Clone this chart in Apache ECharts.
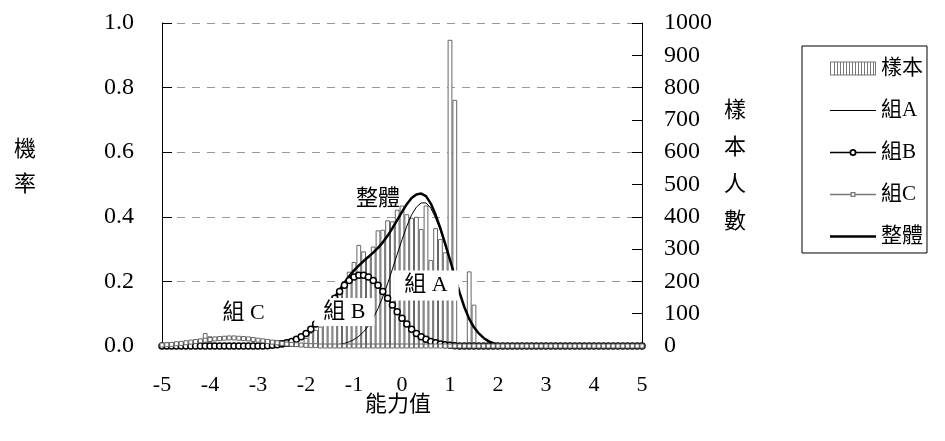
<!DOCTYPE html>
<html>
<head>
<meta charset="utf-8">
<script src="https://cdn.jsdelivr.net/npm/echarts@6/dist/echarts.min.js"></script>
<style>
  html, body { margin: 0; padding: 0; background: #fff; }
  #chart { width: 945px; height: 441px; }
</style>
</head>
<body>
<div id="chart"></div>
<script>
  // 能力值 grid (step 0.1)
  const ability = [
    '-5','-4.9','-4.8','-4.7','-4.6','-4.5','-4.4','-4.3','-4.2','-4.1',
    '-4','-3.9','-3.8','-3.7','-3.6','-3.5','-3.4','-3.3','-3.2','-3.1',
    '-3','-2.9','-2.8','-2.7','-2.6','-2.5','-2.4','-2.3','-2.2','-2.1',
    '-2','-1.9','-1.8','-1.7','-1.6','-1.5','-1.4','-1.3','-1.2','-1.1',
    '-1','-0.9','-0.8','-0.7','-0.6','-0.5','-0.4','-0.3','-0.2','-0.1',
    '0','0.1','0.2','0.3','0.4','0.5','0.6','0.7','0.8','0.9',
    '1','1.1','1.2','1.3','1.4','1.5','1.6','1.7','1.8','1.9',
    '2','2.1','2.2','2.3','2.4','2.5','2.6','2.7','2.8','2.9',
    '3','3.1','3.2','3.3','3.4','3.5','3.6','3.7','3.8','3.9',
    '4','4.1','4.2','4.3','4.4','4.5','4.6','4.7','4.8','4.9',
    '5'
  ]
  // 樣本人數 (right axis)
  const sample = [
    '-','-','-','-','-','-','-','-','-',40,
    30,'-','-','-','-','-','-','-','-','-',
    '-','-','-','-','-','-','-','-','-','-',
    25,41,50,60,75,100,125,160,200,230,
    260,313,293,277,308,358,360,389,386,422,
    435,408,397,400,362,435,266,365,331,290,
    948,762,'-','-',231,128,'-','-','-','-',
    '-','-','-','-','-','-','-','-','-','-',
    '-','-','-','-','-','-','-','-','-','-',
    '-','-','-','-','-','-','-','-','-','-',
    '-'
  ]
  // 機率 curves (left axis)
  const groupA = [
    0,0,0,0,0,0,0,0,0,0,
    0,0,0,0,0,0,0,0,0,0,
    0,0,0,0,0,0,0,0,0,0,
    0,0,0,0,.001,.002,.003,.005,.008,.013,
    .020,.030,.044,.062,.086,.116,.152,.193,.238,.284,
    .329,.371,.406,.430,.443,.443,.427,.396,.358,.312,
    .265,.215,.165,.120,.084,.058,.039,.025,.015,.009,
    .005,.003,.002,.001,0,0,0,0,0,0,
    0,0,0,0,0,0,0,0,0,0,
    0,0,0,0,0,0,0,0,0,0,
    0
  ]
  const groupB = [
    0,0,0,0,0,0,0,0,0,0,
    0,0,0,0,0,0,0,0,0,0,
    0,0,.001,.002,.004,.006,.010,.014,.021,.029,
    .039,.052,.068,.086,.106,.127,.148,.169,.188,.203,
    .214,.219,.219,.214,.203,.188,.169,.148,.127,.106,
    .086,.068,.052,.039,.029,.021,.014,.010,.006,.004,
    .002,.001,0,0,0,0,0,0,0,0,
    0,0,0,0,0,0,0,0,0,0,
    0,0,0,0,0,0,0,0,0,0,
    0,0,0,0,0,0,0,0,0,0,
    0
  ]
  const groupC = [
    .003,.004,.005,.007,.008,.010,.012,.014,.016,.018,
    .020,.022,.023,.024,.025,.025,.024,.023,.022,.020,
    .018,.016,.014,.012,.010,.008,.006,.005,.004,.003,
    .002,.001,.001,0,0,0,0,0,0,0,
    0,0,0,0,0,0,0,0,0,0,
    0,0,0,0,0,0,0,0,0,0,
    0,0,0,0,0,0,0,0,0,0,
    0,0,0,0,0,0,0,0,0,0,
    0,0,0,0,0,0,0,0,0,0,
    0,0,0,0,0,0,0,0,0,0,
    0
  ]
  const total = [
    .003,.004,.005,.007,.008,.010,.012,.014,.016,.018,
    .020,.022,.023,.024,.025,.025,.024,.023,.022,.020,
    .018,.016,.015,.014,.014,.014,.016,.019,.025,.032,
    .041,.053,.069,.086,.107,.129,.151,.174,.196,.216,
    .234,.249,.263,.276,.289,.304,.321,.341,.365,.390,
    .415,.439,.458,.469,.472,.464,.441,.406,.364,.316,
    .267,.216,.165,.120,.084,.058,.039,.025,.015,.009,
    .005,.003,.002,.001,0,0,0,0,0,0,
    0,0,0,0,0,0,0,0,0,0,
    0,0,0,0,0,0,0,0,0,0,
    0
  ]

  const serif = "'Liberation Serif', 'Noto Sans CJK TC', serif"

  // legend icons, drawn in a 46x14 box
  const box = 'M0,0L0.01,0Z M46,14L45.99,14Z '
  let hatch = 'M0,0H46V14H0Z M1,1V13H45V1Z '
  for (let x = 4; x < 45; x += 3) hatch += 'M' + x + ',1H' + (x + 1) + 'V13H' + x + 'Z '
  const iconA = box + 'M0,6.5H46V7.5H0Z'
  const iconTotal = box + 'M0,5.7H46V8.3H0Z'
  const iconB = box + 'M0,6.3H19.5V7.7H0Z M26.5,6.3H46V7.7H26.5Z ' +
    'M19.5,7A3.5,3.5 0 1 1 26.5,7A3.5,3.5 0 1 1 19.5,7Z ' +
    'M21.3,7A1.7,1.7 0 1 0 24.7,7A1.7,1.7 0 1 0 21.3,7Z'
  const iconC = box + 'M0,6.3H20.5V7.7H0Z M25.5,6.3H46V7.7H25.5Z ' +
    'M20.5,4.5H25.5V9.5H20.5Z M21.8,5.8V8.2H24.2V5.8Z'

  const tag = (name, x, y, bg, pad) => ({
    name: name, coord: [x, y], symbol: 'rect', symbolSize: 1,
    itemStyle: { color: 'rgba(0,0,0,0)' },
    label: {
      show: true, position: 'inside', formatter: name,
      fontFamily: serif, fontSize: 22, color: '#000',
      backgroundColor: bg ? '#fff' : 'transparent', padding: pad || 0
    }
  })

  const chart = echarts.init(document.getElementById('chart'))
  chart.setOption({
    animation: false,
    grid: { left: 162, right: 303, top: 23, bottom: 95 },
    legend: {
      orient: 'vertical', left: 802, top: 46,
      padding: [12, 4, 6, 28], itemGap: 21,
      itemWidth: 46, itemHeight: 14,
      borderColor: '#000', borderWidth: 1,
      selectedMode: false,
      textStyle: { fontFamily: serif, fontSize: 21, color: '#000' },
      data: [
        { name: '樣本', icon: 'path://' + hatch, itemStyle: { color: '#777', borderWidth: 0 } },
        { name: '組A', icon: 'path://' + iconA, itemStyle: { color: '#000', borderWidth: 0 } },
        { name: '組B', icon: 'path://' + iconB, itemStyle: { color: '#000', borderWidth: 0 } },
        { name: '組C', icon: 'path://' + iconC, itemStyle: { color: '#777', borderWidth: 0 } },
        { name: '整體', icon: 'path://' + iconTotal, itemStyle: { color: '#000', borderWidth: 0 } }
      ]
    },
    graphic: [
      { type: 'text', left: 14, top: 130, style: { text: '機\n率', font: '22px "Noto Sans CJK TC"', lineHeight: 35, fill: '#000' } },
      { type: 'text', left: 724, top: 90, style: { text: '樣\n本\n人\n數', font: '22px "Noto Sans CJK TC"', lineHeight: 37, fill: '#000' } },
      { type: 'text', left: 365, top: 392, style: { text: '能力值', font: '22px "Noto Sans CJK TC"', fill: '#000' } }
    ],
    xAxis: {
      type: 'category', data: ability, boundaryGap: false,
      axisLine: { lineStyle: { color: '#000' } },
      axisTick: { show: false },
      axisLabel: { interval: 9, margin: 28, fontFamily: serif, fontSize: 22, color: '#000' }
    },
    yAxis: [
      {
        type: 'value', min: 0, max: 1, interval: 0.2,
        axisLine: { show: true, lineStyle: { color: '#000' } },
        axisTick: { show: true, inside: true, length: 10, lineStyle: { color: '#000' } },
        axisLabel: { margin: 28, fontFamily: serif, fontSize: 24, color: '#000', formatter: v => v.toFixed(1) },
        splitLine: { lineStyle: { color: '#999', type: [8, 7] } }
      },
      {
        type: 'value', min: 0, max: 1000, interval: 100,
        axisLine: { show: true, lineStyle: { color: '#000' } },
        axisTick: { show: true, inside: true, length: 10, lineStyle: { color: '#000' } },
        axisLabel: { margin: 22, fontFamily: serif, fontSize: 24, color: '#000', formatter: v => String(v) },
        splitLine: { show: false }
      }
    ],
    series: [
      {
        name: '樣本', type: 'bar', yAxisIndex: 1, data: sample,
        barCategoryGap: '0%',
        itemStyle: { color: '#fff', borderColor: '#666', borderWidth: 1 }
      },
      {
        name: '組A', type: 'line', data: groupA, symbol: 'none',
        lineStyle: { color: '#000', width: 1 },
        markPoint: {
          z: 10,
          data: [
            tag('整體', '-0.5', 0.455, false),
            tag('組 A', '0.5', 0.187, true, [4, 11]),
            tag('組 B', '-1.2', 0.105, true, [3, 9]),
            tag('組 C', '-3.3', 0.103, false)
          ]
        }
      },
      {
        name: '整體', type: 'line', data: total, symbol: 'none',
        lineStyle: { color: '#000', width: 2.5 }
      },
      {
        name: '組B', type: 'line', data: groupB,
        symbol: 'circle', symbolSize: 6, showAllSymbol: true,
        lineStyle: { color: '#000', width: 1.5 },
        itemStyle: { color: '#fff', borderColor: '#000', borderWidth: 1.5 }
      },
      {
        name: '組C', type: 'line', data: groupC,
        symbol: 'rect', symbolSize: 4, showAllSymbol: true,
        lineStyle: { color: '#777', width: 1.5 },
        itemStyle: { color: '#fff', borderColor: '#666', borderWidth: 1 }
      }
    ]
  })
</script>
</body>
</html>
